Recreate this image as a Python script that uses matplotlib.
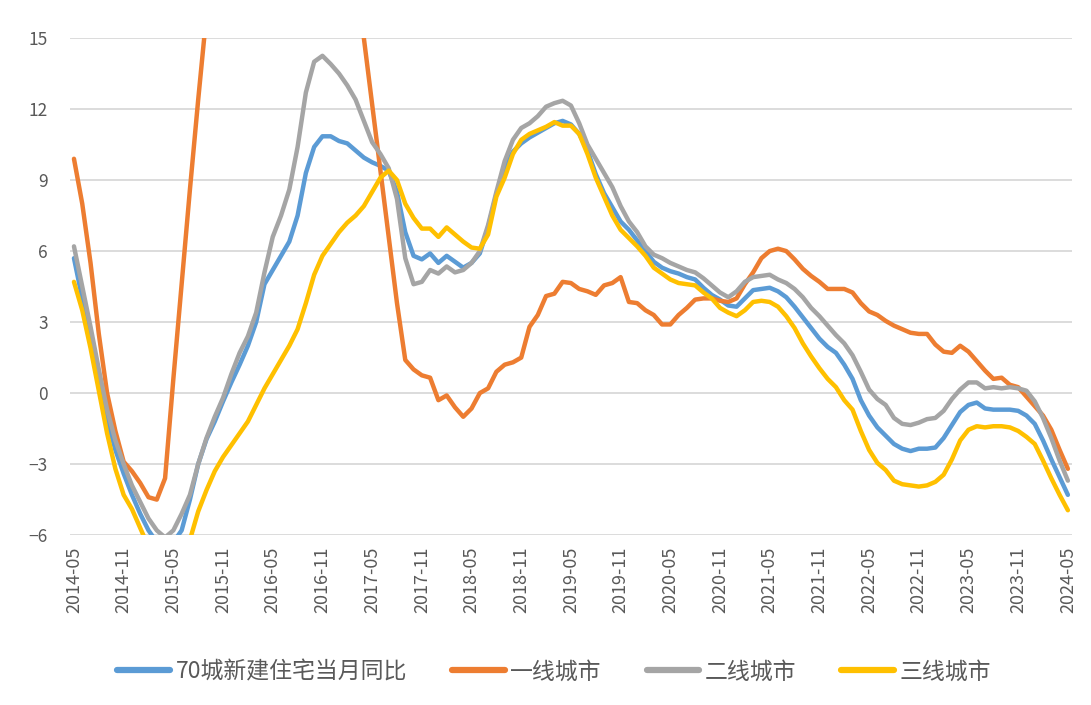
import pandas as pd
import matplotlib
matplotlib.use("Agg")
import matplotlib.pyplot as plt

plt.rcParams['font.family'] = ['Noto Sans CJK SC', 'DejaVu Sans']

# monthly YoY change of new home prices, 2014-05 .. 2024-05
months = [p.strftime("%Y-%m") for p in pd.period_range("2014-05", "2024-05", freq="M")]

city70 = [5.7, 4.0, 2.4, 0.6, -1.1, -2.4, -3.4, -4.3, -5.1, -5.8,
          -6.3, -6.5, -6.3, -5.8, -4.5, -3.0, -1.95, -1.2, -0.35, 0.45,
          1.2, 2.0, 3.0, 4.6, 5.2, 5.8, 6.4, 7.5, 9.3, 10.4,
          10.85, 10.85, 10.65, 10.55, 10.25, 9.95, 9.75, 9.6, 9.4, 8.5,
          6.8, 5.8, 5.65, 5.9, 5.5, 5.8, 5.55, 5.3, 5.5, 5.9,
          7.0, 8.4, 9.5, 10.2, 10.55, 10.8, 11.0, 11.2, 11.4, 11.5,
          11.35, 10.95, 10.25, 9.25, 8.45, 7.85, 7.25, 6.9, 6.45, 6.0,
          5.55, 5.3, 5.15, 5.05, 4.9, 4.8, 4.45, 4.15, 3.95, 3.7,
          3.65, 4.0, 4.35, 4.4, 4.45, 4.3, 4.05, 3.65, 3.2, 2.75,
          2.3, 1.95, 1.7, 1.2, 0.6, -0.3, -0.95, -1.45, -1.8, -2.15,
          -2.35, -2.45, -2.35, -2.35, -2.3, -1.9, -1.35, -0.8, -0.5, -0.4,
          -0.65, -0.7, -0.7, -0.7, -0.75, -0.95, -1.3, -2.0, -2.8, -3.55,
          -4.3]

tier1 = [9.9, 8.0, 5.5, 2.5, 0.0, -1.6, -2.9, -3.3, -3.8, -4.4,
         -4.5, -3.6, 0.6, 4.6, 8.6, 12.4, 16.0, 19.0, 21.5, 23.0,
         24.5, 26.0, 27.5, 29.0, 30.0, 31.0, 32.0, 32.5, 33.0, 32.5,
         31.0, 29.0, 26.5, 24.0, 19.5, 15.0, 12.2, 9.4, 6.6, 3.8,
         1.4, 1.0, 0.75, 0.65, -0.3, -0.1, -0.6, -1.0, -0.65, 0.0,
         0.2, 0.9, 1.2, 1.3, 1.5, 2.8, 3.3, 4.1, 4.2, 4.7,
         4.65, 4.4, 4.3, 4.15, 4.55, 4.65, 4.9, 3.85, 3.8, 3.5,
         3.3, 2.9, 2.9, 3.3, 3.6, 3.95, 4.0, 4.0, 3.9, 3.85,
         4.0, 4.6, 5.1, 5.7, 6.0, 6.1, 6.0, 5.65, 5.25, 4.95,
         4.7, 4.4, 4.4, 4.4, 4.25, 3.8, 3.45, 3.3, 3.05, 2.85,
         2.7, 2.55, 2.5, 2.5, 2.05, 1.75, 1.7, 2.0, 1.75, 1.35,
         0.95, 0.6, 0.65, 0.35, 0.25, -0.15, -0.55, -0.95, -1.55, -2.4,
         -3.2]

tier2 = [6.2, 4.5, 2.8, 1.0, -0.7, -2.0, -3.0, -3.9, -4.6, -5.3,
         -5.8, -6.1, -5.8, -5.1, -4.3, -3.0, -1.9, -1.0, -0.2, 0.8,
         1.7, 2.4, 3.4, 5.1, 6.6, 7.5, 8.6, 10.4, 12.7, 14.0,
         14.25, 13.9, 13.5, 13.0, 12.4, 11.5, 10.6, 10.1, 9.5, 8.2,
         5.7, 4.6, 4.7, 5.2, 5.05, 5.35, 5.1, 5.2, 5.5, 6.0,
         7.1, 8.5, 9.8, 10.7, 11.2, 11.4, 11.7, 12.1, 12.25, 12.35,
         12.15, 11.4, 10.5, 9.9, 9.3, 8.7, 7.9, 7.25, 6.8, 6.2,
         5.85, 5.7, 5.5, 5.35, 5.2, 5.1, 4.85, 4.55, 4.25, 4.05,
         4.3, 4.7, 4.9, 4.95, 5.0, 4.8, 4.65, 4.4, 4.05, 3.6,
         3.25, 2.85, 2.45, 2.1, 1.6, 0.9, 0.15, -0.25, -0.5, -1.05,
         -1.3, -1.35, -1.25, -1.1, -1.05, -0.75, -0.25, 0.15, 0.45, 0.45,
         0.2, 0.25, 0.2, 0.25, 0.2, 0.1, -0.35, -1.05, -1.9, -2.85,
         -3.7]

tier3 = [4.7, 3.5, 1.9, 0.1, -1.7, -3.2, -4.3, -4.9, -5.7, -6.5,
         -7.1, -7.4, -7.3, -6.9, -6.2, -5.0, -4.1, -3.3, -2.7, -2.2,
         -1.7, -1.2, -0.5, 0.2, 0.8, 1.4, 2.0, 2.7, 3.8, 5.0,
         5.8, 6.3, 6.8, 7.2, 7.5, 7.9, 8.5, 9.1, 9.4, 9.0,
         8.0, 7.4, 6.95, 6.95, 6.6, 7.0, 6.7, 6.4, 6.15, 6.1,
         6.7, 8.3, 9.1, 10.1, 10.7, 10.95, 11.1, 11.25, 11.45, 11.3,
         11.3, 10.95, 10.1, 9.1, 8.3, 7.5, 6.9, 6.55, 6.2, 5.8,
         5.3, 5.05, 4.8, 4.65, 4.6, 4.55, 4.25, 4.0, 3.6, 3.4,
         3.25, 3.5, 3.85, 3.9, 3.85, 3.65, 3.25, 2.75, 2.1, 1.55,
         1.05, 0.6, 0.25, -0.3, -0.7, -1.6, -2.4, -2.95, -3.25, -3.7,
         -3.85, -3.9, -3.95, -3.9, -3.75, -3.45, -2.8, -2.0, -1.55, -1.4,
         -1.45, -1.4, -1.4, -1.45, -1.6, -1.85, -2.15, -2.85, -3.6, -4.3,
         -4.95]

names = ["70城新建住宅当月同比", "一线城市", "二线城市", "三线城市"]
colors = ["#5B9BD5", "#ED7D31", "#A5A5A5", "#FFC000"]

fig = plt.figure(figsize=(10.91, 7.05), dpi=100)
ax = fig.add_axes([0.064, 0.241, 0.9186, 0.705])

x = range(len(months))
for ys, name, c in zip([city70, tier1, tier2, tier3], names, colors):
    ax.plot(x, ys, color=c, lw=3.2, label=name,
            solid_joinstyle="round", solid_capstyle="round")

ax.set_xlim(-0.5, len(months) - 0.5)
ax.set_ylim(-6, 15)
ax.set_yticks(range(-6, 16, 3))
ax.set_xticks(range(0, len(months), 6))
ax.set_xticklabels(months[::6], rotation=90, fontsize=13, color="#595959")
ax.tick_params(axis="y", labelsize=12.5, labelcolor="#595959", length=0, pad=16)
ax.tick_params(axis="x", length=0, pad=8)
ax.grid(axis="y", color="#D9D9D9", lw=1.3)
ax.set_axisbelow(True)
for s in ax.spines.values():
    s.set_visible(False)

leg = fig.legend(loc="center", bbox_to_anchor=(0.508, 0.047), ncol=4,
                 frameon=False, fontsize=16.5, handlelength=2.3,
                 handletextpad=0.25, columnspacing=1.95)
for h in leg.get_lines():
    h.set_linewidth(4.5)
    h.set_solid_capstyle("round")
for t in leg.get_texts():
    t.set_color("#595959")

fig.savefig("out.png", dpi=100)
